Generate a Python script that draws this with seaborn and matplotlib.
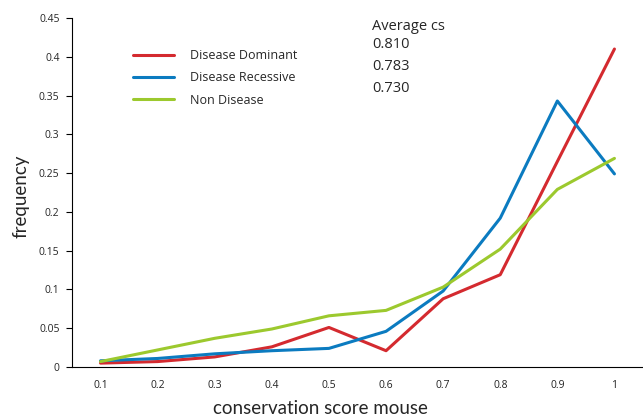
import numpy as np
import pandas as pd
import matplotlib
matplotlib.use('Agg')
import matplotlib.pyplot as plt
from matplotlib.ticker import FixedLocator
import seaborn as sns

# chart data
scores = ['0.1', '0.2', '0.3', '0.4', '0.5', '0.6', '0.7', '0.8', '0.9', '1']
dominant = [0.005, 0.007, 0.013, 0.026, 0.051, 0.021, 0.088, 0.119, 0.265, 0.41]
recessive = [0.008, 0.011, 0.017, 0.021, 0.024, 0.046, 0.098, 0.192, 0.343, 0.249]
non_disease = [0.007, 0.022, 0.037, 0.049, 0.066, 0.073, 0.103, 0.152, 0.229, 0.269]
series_names = ['Disease Dominant', 'Disease Recessive', 'Non Disease']
averages = ['0.810', '0.783', '0.730']
y_ticks = [0, 0.05, 0.1, 0.15, 0.2, 0.25, 0.3, 0.35, 0.4, 0.45]

colors = ['#d42a2f', '#0b7bc0', '#9cc92e']

df = pd.DataFrame({
    'pos': list(range(len(scores))) * 3,
    'freq': dominant + recessive + non_disease,
    'series': [n for n in series_names for _ in scores],
})

sns.set_style('white')
plt.rcParams['font.family'] = ['Open Sans', 'DejaVu Sans']

fig = plt.figure(figsize=(6.43, 4.17), dpi=100)
ax = fig.add_axes([72 / 643, 50 / 417, 571 / 643, 349 / 417])

sns.lineplot(data=df, x='pos', y='freq', hue='series', palette=colors,
             linewidth=2.2, sort=False, ax=ax, legend=False)

ax.set_xlim(-0.5, len(scores) - 0.5)
ax.set_ylim(0, 0.45)

# categorical x axis: labels at centres, tick marks between categories
ax.xaxis.set_major_locator(FixedLocator(range(len(scores))))
ax.set_xticklabels(scores)
ax.xaxis.set_minor_locator(FixedLocator(np.arange(-0.5, len(scores), 1)))
ax.tick_params(axis='x', which='major', length=0, labelsize=7.5, pad=9, colors='#222222')
ax.tick_params(axis='x', which='minor', length=4, width=0.8, direction='out', color='black')

ax.set_yticks(y_ticks)
ax.set_yticklabels(['0' if v == 0 else ('%g' % v) for v in y_ticks])
ax.tick_params(axis='y', length=4, width=0.8, direction='out', labelsize=7.5,
               color='black', pad=5, left=True)

for side in ['top', 'right']:
    ax.spines[side].set_visible(False)
for side in ['left', 'bottom']:
    ax.spines[side].set_color('black')
    ax.spines[side].set_linewidth(0.8)

ax.set_xlabel('conservation score mouse', fontsize=13.5, family='Lato')
ax.xaxis.set_label_coords((320 - 72) / 571, -(400 - 367) / 349)
ax.set_ylabel('frequency', fontsize=13.5, family='Lato')
ax.yaxis.set_label_coords((29 - 72) / 571, (367 - 196) / 349)

# legend with averages
handles = [plt.Line2D([], [], color=c, lw=2.2) for c in colors]
leg = ax.legend(handles, series_names, loc='upper left', frameon=False,
                bbox_to_anchor=(56 / 571, 1 - 26 / 349), fontsize=9,
                handlelength=3.3, handletextpad=1.3, labelspacing=0.75,
                borderaxespad=0)

fig.text(372 / 643, 1 - 27 / 417, 'Average cs', fontsize=10.5, va='center')
for i, a in enumerate(averages):
    fig.text(372 / 643, 1 - (44 + 22 * i) / 417, a, fontsize=10.5, va='center')

fig.savefig('out.png', dpi=100)
